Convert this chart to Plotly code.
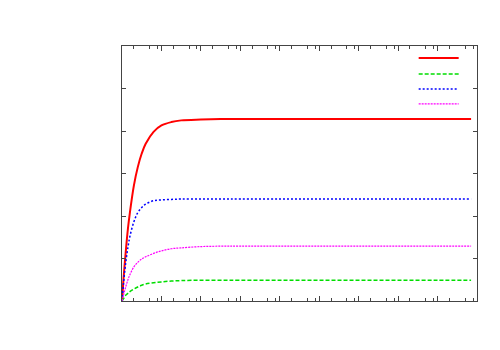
import plotly.graph_objects as go

# sample times (x)
t = [0, 0.05, 0.1, 0.15, 0.2, 0.3, 0.4, 0.5, 0.6, 0.8, 1.0, 1.25, 1.5, 2, 2.5, 3, 4, 5, 6, 7, 8, 8.85]

red = [0, 0.66, 1.21, 1.70, 2.08, 2.71, 3.15, 3.47, 3.70, 3.98, 4.13, 4.21, 4.25, 4.27, 4.28, 4.28,
       4.28, 4.28, 4.28, 4.28, 4.28, 4.28]
green = [0, 0.07, 0.14, 0.18, 0.22, 0.28, 0.33, 0.37, 0.40, 0.43, 0.45, 0.47, 0.48, 0.49, 0.49, 0.49,
         0.49, 0.49, 0.49, 0.49, 0.49, 0.49]
blue = [0, 0.53, 0.94, 1.26, 1.52, 1.86, 2.08, 2.20, 2.28, 2.36, 2.38, 2.39, 2.40, 2.40, 2.40, 2.40,
        2.40, 2.40, 2.40, 2.40, 2.40, 2.40]
magenta = [0, 0.18, 0.35, 0.50, 0.62, 0.80, 0.91, 0.99, 1.04, 1.12, 1.18, 1.23, 1.25, 1.28, 1.29, 1.29,
           1.29, 1.29, 1.29, 1.29, 1.29, 1.29]

x_major = [0, 1, 2, 3, 4, 5, 6, 7, 8, 9]
x_minor = [k + f for k in range(9) for f in (0.3, 0.7, 0.9)]
y_major = [0, 1, 2, 3, 4, 5, 6]

series = [
    (red, "#ff0000", "solid", 2),
    (green, "#00dd00", "4px,2px", 1.5),
    (blue, "#0000ff", "2px,2px", 1.5),
    (magenta, "#ff00ff", "2px,1px", 1.2),
]
# one small legend per key so the keys sit close together like the original
legend_ids = ["legend", "legend2", "legend3", "legend4"]
legend_y = [0.953, 0.890, 0.831, 0.773]

fig = go.Figure()
for (vals, color, dash, w), lg in zip(series, legend_ids):
    fig.add_trace(go.Scatter(x=t, y=vals, mode="lines", name=" ", legend=lg, showlegend=True,
                             line=dict(color=color, dash=dash, width=w, shape="spline")))

axis_common = dict(showline=True, linecolor="#444", linewidth=1, mirror="ticks",
                   ticks="inside", tickcolor="#444", showgrid=False, zeroline=False,
                   showticklabels=False)

fig.update_xaxes(range=[0, 9], tickmode="array", tickvals=x_major, ticklen=5,
                 minor=dict(tickmode="array", tickvals=x_minor, ticks="inside",
                            ticklen=3, tickcolor="#444"),
                 **axis_common)
fig.update_yaxes(range=[0, 6], tickmode="array", tickvals=y_major, ticklen=4, **axis_common)

legend_style = dict(x=0.985, xanchor="right", yanchor="middle", itemwidth=40,
                    font=dict(size=9), bgcolor="rgba(0,0,0,0)")

# body of the page has an 8px margin, so margins are trimmed to compensate
fig.update_layout(
    width=500, height=350,
    showlegend=True,
    margin=dict(l=114, r=31, t=38, b=57),
    paper_bgcolor="white", plot_bgcolor="white",
    **{lg: dict(y=yy, **legend_style) for lg, yy in zip(legend_ids, legend_y)},
)

fig.write_html("out.html")
